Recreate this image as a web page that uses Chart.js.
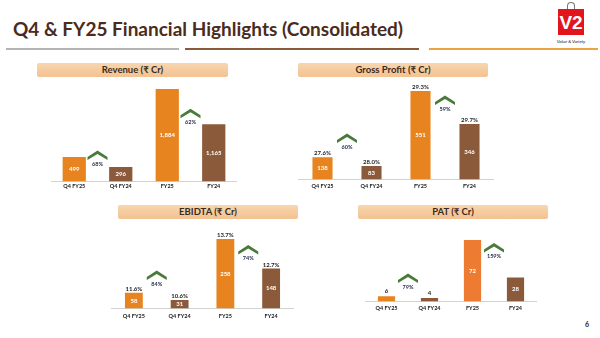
<!DOCTYPE html>
<html lang="en">
<head>
  <meta charset="UTF-8" />
  <title>Q4 & FY25 Financial Highlights</title>
  <script src="https://cdn.jsdelivr.net/npm/chart.js"></script>
  <style>
    body {
      margin: 0;
      width: 600px;
      height: 338px;
      background: #fff;
      position: relative;
      overflow: hidden;
      font-family: Lato, Arial, sans-serif;
    }
    .title {
      position: absolute;
      left: 13px;
      top: 17px;
      font-size: 19px;
      font-weight: bold;
      color: #4a2b1c;
      white-space: nowrap;
    }
    .rule {
      position: absolute;
      top: 48px;
      height: 2px;
    }
    .head {
      position: absolute;
      height: 14px;
      line-height: 14px;
      text-align: center;
      font-size: 9.5px;
      font-weight: bold;
      color: #3b2a20;
      background: linear-gradient(to bottom, #f8d6ae, #f3c291);
      border-radius: 2px;
    }
    canvas {
      position: absolute;
    }
    .logo {
      position: absolute;
      left: 558px;
      top: 9px;
      width: 26px;
      height: 26px;
      background: #e2141c;
      color: #fff;
      font: bold 19px Arial, sans-serif;
      text-align: center;
      line-height: 28px;
    }
    .handle {
      position: absolute;
      left: 567px;
      top: 2px;
      width: 6px;
      height: 9px;
      border: 1px solid #777;
      border-bottom: none;
      border-radius: 4px 4px 0 0;
    }
    .tag {
      position: absolute;
      left: 553px;
      top: 39px;
      width: 36px;
      text-align: center;
      font-size: 4.5px;
      font-style: italic;
      color: #222;
    }
    .page {
      position: absolute;
      left: 585px;
      top: 320px;
      font-size: 7px;
      font-weight: bold;
      color: #222;
    }
  </style>
</head>
<body>
  <div class="title">Q4 &amp; FY25 Financial Highlights (Consolidated)</div>
  <div class="rule" style="left:6px;width:173px;background:#b4b4b4"></div>
  <div class="rule" style="left:185px;width:234px;background:#8a5a3c"></div>
  <div class="rule" style="left:429px;width:169px;background:#eaa440"></div>

  <div class="handle"></div>
  <div class="logo">V2</div>
  <div class="tag">Value &amp; Variety</div>

  <canvas id="revChart" width="186" height="121" style="left:51px;top:71px"></canvas>
  <canvas id="gpChart" width="196" height="115" style="left:298px;top:79px"></canvas>
  <canvas id="ebChart" width="183" height="97" style="left:111px;top:228px"></canvas>
  <canvas id="patChart" width="172" height="95" style="left:365px;top:221px"></canvas>

  <div class="head" style="left:37px;top:63px;width:191px">Revenue (₹ Cr)</div>
  <div class="head" style="left:298px;top:63px;width:190px">Gross Profit (₹ Cr)</div>
  <div class="head" style="left:118px;top:205px;width:180px">EBIDTA (₹ Cr)</div>
  <div class="head" style="left:358px;top:205px;width:190px">PAT (₹ Cr)</div>

  <div class="page">6</div>

  <script>
    const categories = ['Q4 FY25', 'Q4 FY24', 'FY25', 'FY24'];

    const revenue = [499, 296, 1884, 1165];
    const revenueGrowth = ['68%', '62%'];

    const grossProfit = [138, 83, 551, 346];
    const grossMargin = ['27.6%', '28.0%', '29.3%', '29.7%'];
    const grossGrowth = ['60%', '59%'];

    const ebitda = [58, 31, 258, 148];
    const ebitdaMargin = ['11.6%', '10.6%', '13.7%', '12.7%'];
    const ebitdaGrowth = ['84%', '74%'];

    const pat = [6, 4, 72, 28];
    const patGrowth = ['79%', '159%'];

    const ORANGE = '#e7841f';
    const BROWN = '#8b5a3b';
    const GREEN = '#4a7a3a';

    // value labels, margin % above bars and the green growth chevrons
    const barText = {
      id: 'barText',
      afterDatasetsDraw(chart, args, opts) {
        const ctx = chart.ctx;
        const meta = chart.getDatasetMeta(0);
        const data = chart.data.datasets[0].data;
        const max = Math.max(...data);
        ctx.save();
        ctx.textAlign = 'center';
        meta.data.forEach((bar, i) => {
          ctx.font = 'bold 6px Lato';
          if (data[i] / max < 0.1) {
            ctx.fillStyle = '#222';
            ctx.textBaseline = 'bottom';
            ctx.fillText(data[i].toLocaleString('en-US'), bar.x, bar.y - 2);
          } else {
            ctx.fillStyle = '#fff';
            ctx.textBaseline = 'middle';
            ctx.fillText(data[i].toLocaleString('en-US'), bar.x, (bar.y + bar.base) / 2);
          }
          if (opts.margins) {
            ctx.fillStyle = '#1e1e1e';
            ctx.textBaseline = 'bottom';
            ctx.font = 'bold 6px Lato';
            ctx.fillText(opts.margins[i], bar.x, bar.y - 1);
          }
        });
        opts.growth.forEach((g, k) => {
          const a = meta.data[k * 2], b = meta.data[k * 2 + 1];
          const x = (a.x + b.x) / 2;
          const y = Math.max(a.y, b.y) - opts.lift[k];
          ctx.fillStyle = GREEN;
          ctx.beginPath();
          ctx.moveTo(x - 10, y + 2);
          ctx.lineTo(x, y - 4.5);
          ctx.lineTo(x + 10, y + 2);
          ctx.lineTo(x + 10, y + 5);
          ctx.lineTo(x, y - 1);
          ctx.lineTo(x - 10, y + 5);
          ctx.closePath();
          ctx.fill();
          ctx.fillStyle = '#1d2a48';
          ctx.font = 'bold 5.5px Lato';
          ctx.textBaseline = 'middle';
          ctx.fillText(g, x, y + 9);
        });
        ctx.restore();
      }
    };

    function makeChart(id, values, colors, barPct, yMax, tickPad, text) {
      return new Chart(document.getElementById(id), {
        type: 'bar',
        data: {
          labels: categories,
          datasets: [{
            data: values,
            backgroundColor: colors,
            barPercentage: barPct,
            categoryPercentage: 1
          }]
        },
        options: {
          responsive: false,
          animation: false,
          devicePixelRatio: 1,
          layout: { padding: 0 },
          plugins: {
            legend: { display: false },
            tooltip: { enabled: false },
            barText: text
          },
          scales: {
            x: {
              grid: { display: false, drawTicks: false },
              border: { display: true, color: '#d2d2d2' },
              ticks: {
                color: '#222',
                padding: tickPad,
                autoSkip: false,
                maxRotation: 0,
                font: { family: 'Lato', size: 5.5, weight: 'bold' }
              }
            },
            y: { display: false, min: 0, max: yMax }
          }
        },
        plugins: [barText]
      });
    }

    makeChart('revChart', revenue, [ORANGE, BROWN, ORANGE, BROWN], 0.5,
      Math.max(...revenue) * 110 / 92, 2,
      { growth: revenueGrowth, lift: [12, 11] });

    makeChart('gpChart', grossProfit, [ORANGE, BROWN, ORANGE, BROWN], 0.41,
      Math.max(...grossProfit) * 100 / 88, 4,
      { margins: grossMargin, growth: grossGrowth, lift: [28, 24] });

    makeChart('ebChart', ebitda, [ORANGE, BROWN, ORANGE, BROWN], 0.39,
      Math.max(...ebitda) * 80 / 69, 5,
      { margins: ebitdaMargin, growth: ebitdaGrowth, lift: [25, 19] });

    makeChart('patChart', pat, [ORANGE, BROWN, '#ee7b32', BROWN], 0.4,
      Math.max(...pat) * 80 / 61, 4,
      { growth: patGrowth, lift: [20, 30] });
  </script>
</body>
</html>
